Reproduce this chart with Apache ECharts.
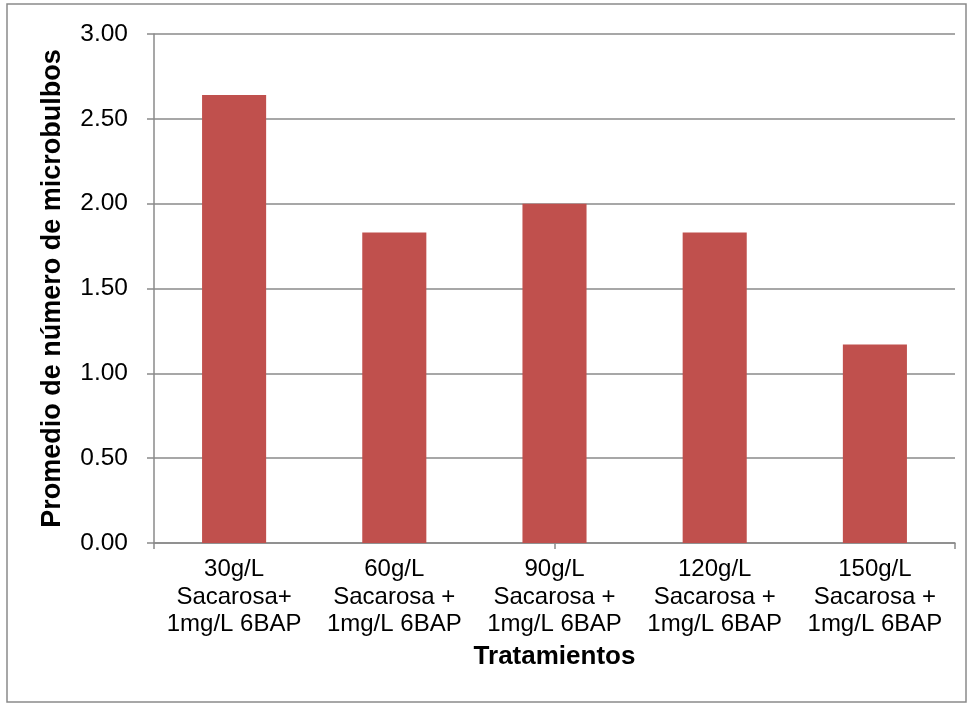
<!DOCTYPE html>
<html>
<head>
<meta charset="utf-8">
<style>
  html, body { margin: 0; padding: 0; background: #ffffff; }
  #chart { width: 969px; height: 705px; }
</style>
<script src="https://cdn.jsdelivr.net/npm/echarts@6/dist/echarts.min.js"></script>
</head>
<body>
<div id="chart"></div>
<script>
// Treatments (sucrose concentration + 1 mg/L 6BAP)
const categories = [
  '30g/L\nSacarosa+\n1mg/L 6BAP',
  '60g/L\nSacarosa +\n1mg/L 6BAP',
  '90g/L\nSacarosa +\n1mg/L 6BAP',
  '120g/L\nSacarosa +\n1mg/L 6BAP',
  '150g/L\nSacarosa +\n1mg/L 6BAP'
];
// Mean number of microbulbs per treatment
const meanMicrobulbs = [2.64, 1.83, 2.00, 1.83, 1.17];
// Value axis ticks
const yTicks = [0, 0.5, 1, 1.5, 2, 2.5, 3];

const FONT = '"Liberation Sans", Arial, sans-serif';
const GRID_COLOR = '#8a8a8a';

const chart = echarts.init(document.getElementById('chart'), null, { renderer: 'canvas' });

chart.setOption({
  animation: false,
  backgroundColor: '#ffffff',
  textStyle: { fontFamily: FONT },
  graphic: [{
    type: 'rect',
    shape: { x: 7, y: 4, width: 959, height: 698 },
    style: { fill: 'none', stroke: '#8a8a8a', lineWidth: 1.5 },
    silent: true,
    z: -1
  }],
  grid: { left: 154, right: 14, top: 34, bottom: 162, containLabel: false },
  xAxis: [{
    type: 'category',
    data: categories,
    name: 'Tratamientos',
    nameLocation: 'middle',
    nameGap: 100,
    nameTextStyle: { fontFamily: FONT, fontSize: 26, fontWeight: 'bold', color: '#000' },
    axisLine: { show: true, lineStyle: { color: GRID_COLOR, width: 1.5 } },
    axisTick: { show: false },
    axisLabel: {
      interval: 0,
      margin: 13,
      fontFamily: FONT,
      fontSize: 24,
      lineHeight: 27.5,
      color: '#000',
      align: 'center'
    }
  }, {
    // Tick marks along the category axis
    type: 'value',
    position: 'bottom',
    min: 0,
    max: 5,
    interval: 2.5,
    axisLine: { show: false },
    axisTick: { show: true, length: 6, lineStyle: { color: GRID_COLOR, width: 1.5 } },
    axisLabel: { show: false },
    splitLine: { show: false }
  }],
  yAxis: {
    type: 'value',
    min: yTicks[0],
    max: yTicks[yTicks.length - 1],
    interval: 0.5,
    name: 'Promedio de número de microbulbos',
    nameLocation: 'middle',
    nameGap: 88,
    nameRotate: 90,
    nameTextStyle: { fontFamily: FONT, fontSize: 27, fontWeight: 'bold', color: '#000' },
    axisLine: { show: true, lineStyle: { color: GRID_COLOR, width: 1.5 } },
    axisTick: { show: true, length: 7, lineStyle: { color: GRID_COLOR, width: 1.5 } },
    axisLabel: {
      margin: 26,
      fontFamily: FONT,
      fontSize: 24.5,
      color: '#000',
      formatter: v => v.toFixed(2)
    },
    splitLine: { show: true, lineStyle: { color: GRID_COLOR, width: 1.5 } }
  },
  series: [{
    type: 'bar',
    xAxisIndex: 0,
    data: meanMicrobulbs,
    barWidth: '40%',
    itemStyle: { color: '#C0504D' }
  }]
});
</script>
</body>
</html>
